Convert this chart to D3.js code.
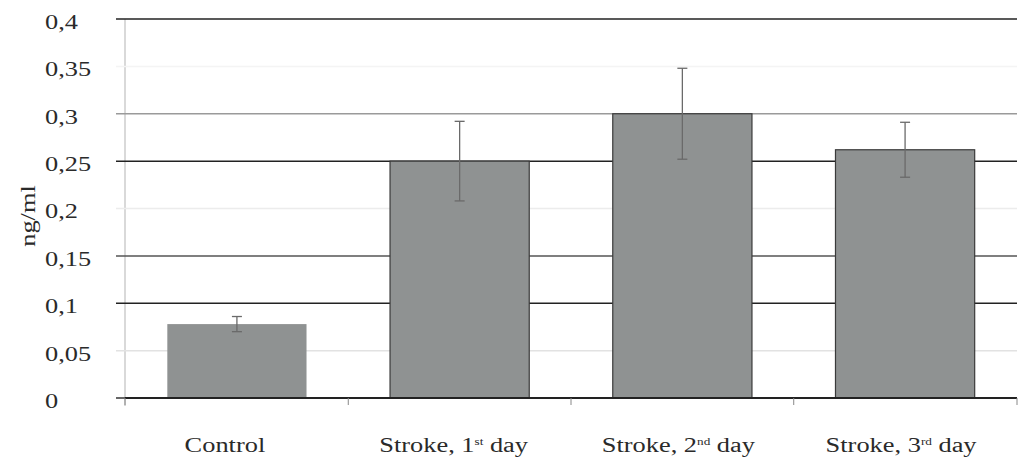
<!DOCTYPE html>
<html><head><meta charset="utf-8">
<script src="https://cdn.jsdelivr.net/npm/d3@7"></script>
<style>body{margin:0;background:#fff}svg{display:block}</style>
</head><body><svg id="c" width="1019" height="461"></svg>
<script>
const categories = ["Control", "Stroke, 1", "Stroke, 2", "Stroke, 3"];
const superscripts = ["", "st", "nd", "rd"];
const suffixes = ["", " day", " day", " day"];
const values = [0.078, 0.25, 0.30, 0.262];
const errors = [0.008, 0.042, 0.048, 0.029];
const yTicks = [0, 0.05, 0.1, 0.15, 0.2, 0.25, 0.3, 0.35, 0.4];
const yTickLabels = ["0", "0,05", "0,1", "0,15", "0,2", "0,25", "0,3", "0,35", "0,4"];
const yLabel = "ng/ml";

const FONT = "'Liberation Serif', 'DejaVu Serif', serif";
const SX = 1.32;
const gridColors = {0:"#333",0.05:"#e2e2e2",0.1:"#222",0.15:"#555",0.2:"#ececec",0.25:"#222",0.3:"#9a9a9a",0.35:"#f4f4f4",0.4:"#222"};
const svg = d3.select("#c");
const L = 125, R = 1017, T = 19, B = 398;
const x = d3.scaleBand().domain(categories).range([L, R]).paddingInner(0.375).paddingOuter(0.19);
const y = d3.scaleLinear().domain([0, 0.4]).range([B, T]);

// y axis line
svg.append("line").attr("x1", L).attr("x2", L).attr("y1", T).attr("y2", B + 8).attr("stroke", "#ccc").attr("stroke-width", 1.5);
// gridlines
svg.append("g").selectAll("line").data(yTicks).join("line")
  .attr("x1", L - 9).attr("x2", R).attr("y1", d => y(d)).attr("y2", d => y(d))
  .attr("stroke", d => gridColors[d]).attr("stroke-width", 1.5);
// y tick labels (left aligned, horizontally stretched like the source)
const ya = d3.axisLeft(y).tickValues(yTicks).tickFormat((d, i) => yTickLabels[i]).tickSize(0);
const gy = svg.append("g").attr("transform", `translate(${L},0)`).call(ya);
gy.select(".domain").remove();
gy.selectAll(".tick text")
  .attr("font-size", 20).attr("font-family", FONT).attr("fill", "#2a2a2a")
  .attr("text-anchor", "start").attr("x", 0).attr("dy", "0.47em")
  .attr("transform", `translate(${45 - L},0) scale(${SX},1)`);

// bars
svg.append("g").selectAll("rect").data(values).join("rect")
  .attr("x", (d, i) => x(categories[i])).attr("width", x.bandwidth())
  .attr("y", d => y(d)).attr("height", d => B - y(d))
  .attr("fill", "#8f9292").attr("stroke", (d, i) => i === 0 ? "none" : "#3a3a3a").attr("stroke-width", 1.2);
// baseline
svg.append("line").attr("x1", L).attr("x2", R).attr("y1", B).attr("y2", B).attr("stroke", "#222").attr("stroke-width", 1.8);

// x ticks at band boundaries
const bounds = categories.map(c => x(c) - x.step() * x.paddingInner() / 2);
bounds[0] = L;
bounds.push(R);
svg.append("g").selectAll("line").data(bounds).join("line")
  .attr("x1", d => d).attr("x2", d => d).attr("y1", B).attr("y2", B + 7).attr("stroke", "#888").attr("stroke-width", 1);

// error bars
const eg = svg.append("g").attr("stroke", "#6a6a6a").attr("stroke-width", 1.3);
values.forEach((v, i) => {
  const cx = x(categories[i]) + x.bandwidth() / 2;
  eg.append("line").attr("x1", cx).attr("x2", cx).attr("y1", y(v + errors[i])).attr("y2", y(v - errors[i]));
  eg.append("line").attr("x1", cx - 5).attr("x2", cx + 5).attr("y1", y(v + errors[i])).attr("y2", y(v + errors[i]));
  eg.append("line").attr("x1", cx - 5).attr("x2", cx + 5).attr("y1", y(v - errors[i])).attr("y2", y(v - errors[i]));
});

// x labels
const labelShift = [-12, -6, -4, -4];
categories.forEach((c, i) => {
  const cx = x(c) + x.bandwidth() / 2 + labelShift[i];
  const t = svg.append("text").attr("transform", `translate(${cx},452) scale(${SX},1)`)
    .attr("text-anchor", "middle").attr("font-size", 20).attr("font-family", FONT).attr("fill", "#2a2a2a");
  t.append("tspan").text(c);
  if (superscripts[i]) t.append("tspan").attr("font-size", 10).attr("dy", -7).text(superscripts[i]);
  if (suffixes[i]) t.append("tspan").attr("dy", superscripts[i] ? 7 : 0).text(suffixes[i]);
});

// y label
svg.append("text").attr("transform", `translate(35,216) rotate(-90) scale(${SX},1)`)
  .attr("text-anchor", "middle").attr("font-size", 20).attr("font-family", FONT).attr("fill", "#2a2a2a").text(yLabel);
</script></body></html>
